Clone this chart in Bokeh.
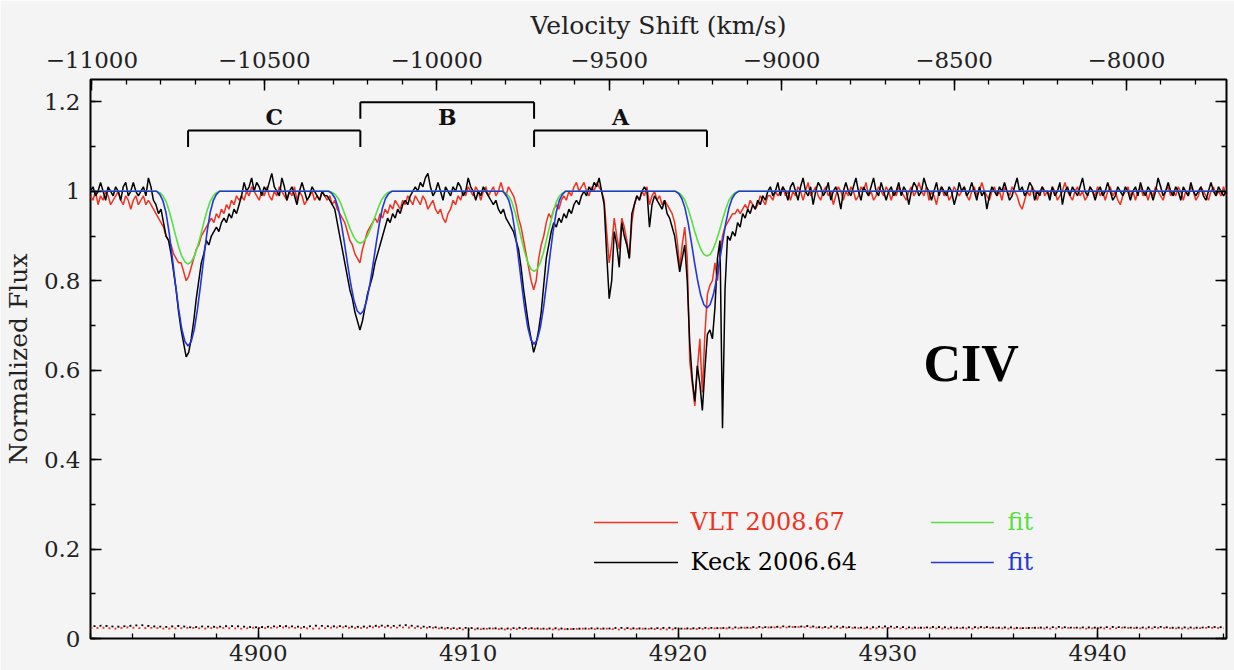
import numpy as np
from bokeh.plotting import figure
from bokeh.models import (Range1d, LinearAxis, CustomJSTickFormatter,
                          SingleIntervalTicker, Label)
from bokeh.embed import file_html
from bokeh.resources import INLINE

# ---------------------------------------------------------------- data
# Spectra sampled on a uniform wavelength grid (Angstrom), flux in percent
WAVE_START = 4892.0
WAVE_STEP = 0.12

keck_pct = [
    100, 101, 99, 100, 102, 100, 98, 101, 100, 99,
    101, 100, 98, 101, 102, 99, 100, 102, 100, 99,
    100, 101, 99, 103, 101, 98, 97, 95, 96, 93,
    90, 89, 86, 82, 78, 73, 69, 66, 63, 64,
    67, 71, 76, 80, 84, 86, 89, 88, 90, 91,
    92, 91, 93, 94, 93, 95, 94, 96, 95, 97,
    99, 102, 100, 101, 103, 100, 102, 101, 99, 101,
    100, 102, 104, 101, 100, 99, 103, 101, 98, 100,
    101, 99, 97, 100, 102, 100, 98, 99, 101, 100,
    99, 98, 100, 99, 99, 98, 97, 96, 93, 90,
    87, 84, 81, 78, 76, 73, 71, 69, 71, 74,
    77, 79, 81, 84, 86, 88, 90, 92, 94, 93,
    95, 94, 96, 95, 97, 98, 97, 99, 100, 101,
    100, 102, 101, 103, 104, 101, 99, 100, 102, 100,
    98, 101, 100, 99, 101, 100, 102, 101, 99, 100,
    103, 101, 100, 98, 100, 99, 101, 100, 99, 98,
    97, 98, 96, 95, 96, 94, 93, 92, 91, 89,
    87, 83, 78, 74, 70, 67, 64, 66, 69, 73,
    79, 85, 88, 91, 93, 92, 94, 93, 95, 94,
    96, 95, 97, 98, 97, 99, 100, 99, 101, 100,
    102, 101, 103, 100, 97, 86, 76, 80, 91, 88,
    83, 93, 90, 88, 85, 95, 97, 99, 98, 100,
    101, 100, 92, 97, 99, 98, 97, 96, 98, 95,
    94, 92, 90, 86, 82, 85, 88, 80, 66, 58,
    53, 61, 57, 51, 60, 68, 69, 67, 74, 85,
    89, 47, 78, 90, 89, 91, 90, 93, 92, 95,
    94, 96, 95, 97, 96, 98, 97, 99, 98, 100,
    101, 99, 100, 102, 99, 101, 100, 98, 101, 102,
    100, 98, 101, 103, 100, 99, 101, 97, 100, 102,
    101, 99, 100, 102, 98, 100, 101, 99, 96, 100,
    102, 100, 99, 101, 103, 100, 98, 101, 100, 99,
    101, 103, 100, 99, 102, 100, 98, 100, 101, 99,
    100, 102, 99, 101, 100, 97, 100, 102, 101, 99,
    100, 103, 101, 100, 98, 100, 102, 99, 101, 100,
    99, 101, 100, 97, 99, 102, 100, 101, 99, 100,
    102, 100, 98, 101, 99, 100, 96, 99, 101, 100,
    99, 101, 100, 102, 100, 98, 99, 101, 103, 100,
    101, 99, 100, 102, 101, 98, 100, 99, 101, 100,
    100, 98, 101, 99, 100, 102, 97, 100, 101, 99,
    101, 100, 99, 101, 103, 100, 99, 101, 100, 98,
    100, 101, 99, 100, 102, 100, 98, 99, 101, 100,
    99, 101, 100, 98, 100, 101, 99, 102, 100, 99,
    101, 100, 98, 100, 103, 101, 99, 100, 102, 100,
    99, 101, 100, 98, 101, 100, 99, 102, 100, 99,
    100, 101, 99, 98, 100, 102, 100, 99, 101, 100,
    99, 100,
]

vlt_pct = [
    99, 98, 100, 97, 99, 98, 100, 99, 97, 98,
    99, 100, 98, 97, 99, 98, 96, 98, 99, 97,
    98, 99, 97, 98, 97, 96, 95, 94, 93, 92,
    90, 89, 88, 86, 85, 84, 84, 82, 80, 81,
    83, 85, 87, 88, 90, 91, 92, 93, 94, 93,
    95, 94, 96, 95, 97, 96, 98, 97, 99, 98,
    99, 98, 100, 99, 101, 100, 99, 98, 100, 99,
    101, 99, 98, 100, 99, 101, 100, 99, 98, 100,
    99, 101, 98, 100, 99, 97, 98, 99, 100, 98,
    99, 98, 100, 99, 98, 99, 97, 98, 96, 95,
    94, 93, 91, 89, 88, 86, 85, 84, 87, 89,
    91, 92, 93, 94, 93, 95, 94, 96, 95, 97,
    96, 98, 97, 96, 98, 97, 99, 98, 97, 99,
    98, 97, 99, 98, 96, 97, 98, 96, 95, 96,
    94, 93, 95, 96, 98, 97, 99, 98, 100, 99,
    101, 100, 99, 101, 100, 98, 100, 101, 99, 100,
    101, 99, 100, 102, 100, 99, 101, 100, 99, 97,
    94, 92, 89, 86, 83, 80, 78, 80, 85, 88,
    90, 93, 95, 94, 96, 97, 96, 98, 99, 98,
    100, 99, 101, 102, 100, 101, 102, 100, 99, 101,
    100, 102, 101, 100, 98, 91, 84, 88, 94, 90,
    87, 94, 92, 89, 85, 93, 97, 99, 98, 100,
    99, 101, 97, 99, 100, 98, 99, 97, 98, 97,
    96, 95, 93, 89, 83, 88, 92, 85, 62, 57,
    52, 60, 67, 55, 68, 77, 79, 80, 84, 80,
    86, 90, 92, 93, 94, 95, 95, 96, 95, 96,
    97, 96, 98, 97, 96, 97, 99, 98, 97, 99,
    99, 98, 100, 99, 100, 101, 99, 100, 98, 100,
    99, 101, 100, 98, 100, 102, 99, 100, 101, 99,
    98, 100, 101, 99, 100, 97, 99, 101, 100, 98,
    100, 99, 101, 100, 98, 99, 101, 100, 102, 99,
    100, 98, 99, 101, 100, 99, 101, 100, 98, 100,
    99, 101, 100, 99, 98, 100, 101, 99, 100, 102,
    100, 99, 101, 98, 100, 99, 97, 100, 101, 99,
    100, 98, 99, 101, 100, 99, 100, 101, 99, 98,
    100, 101, 99, 100, 102, 100, 99, 98, 100, 101,
    99, 100, 98, 101, 100, 99, 101, 100, 99, 97,
    96, 98, 100, 99, 101, 100, 98, 100, 101, 99,
    100, 99, 101, 100, 98, 99, 100, 102, 100, 99,
    98, 100, 101, 99, 100, 98, 99, 101, 100, 99,
    101, 99, 100, 98, 100, 101, 99, 100, 98, 97,
    99, 100, 101, 99, 100, 98, 100, 101, 99, 100,
    98, 100, 99, 101, 100, 99, 98, 100, 101, 99,
    100, 99, 101, 100, 98, 100, 99, 101, 100, 98,
    99, 101, 100, 99, 98, 100, 101, 99, 100, 99,
    101, 99,
]

# Error spectra on a coarser grid (flux units x 1000)
ERR_START = 4892.0
ERR_STEP = 0.6
keck_err_milli = [
    27, 29, 26, 28, 30, 27, 26, 28, 25, 27,
    26, 28, 27, 25, 26, 28, 27, 26, 29, 27,
    28, 26, 27, 29, 28, 30, 27, 26, 24, 23,
    24, 22, 23, 22, 24, 23, 22, 23, 21, 22,
    23, 22, 24, 23, 22, 23, 24, 22, 23, 24,
    23, 25, 24, 26, 25, 27, 26, 28, 25, 27,
    26, 24, 25, 27, 26, 25, 24, 26, 25, 24,
    25, 26, 24, 25, 23, 24, 25, 26, 24, 25,
    24, 26, 25, 24, 25, 26, 24, 25, 24, 26,
    25,
]
vlt_err_milli = [
    23, 24, 22, 25, 23, 24, 22, 23, 24, 22,
    24, 23, 22, 24, 23, 25, 24, 23, 22, 24,
    25, 23, 24, 26, 24, 25, 23, 24, 22, 21,
    20, 21, 22, 20, 21, 22, 21, 20, 21, 22,
    21, 22, 20, 21, 22, 21, 20, 22, 21, 22,
    23, 22, 24, 23, 25, 24, 26, 25, 24, 23,
    24, 23, 22, 24, 23, 22, 24, 23, 22, 23,
    22, 24, 23, 22, 23, 24, 22, 23, 24, 22,
    23, 22, 24, 23, 22, 24, 23, 22, 23, 24,
    23,
]

# Absorption components (observed wavelength of each trough) and fits
COMPONENT_CENTERS = [4896.65, 4904.86, 4913.14, 4921.38]
PROFILE_OFFSETS = [-1.5, -1.35, -1.2, -1.05, -0.9, -0.75, -0.6, -0.45, -0.3, -0.15,
                   0.0, 0.15, 0.3, 0.45, 0.6, 0.75, 0.9, 1.05, 1.2, 1.35, 1.5]
fit_blue = [
    [1.000, 0.993, 0.979, 0.952, 0.907, 0.851, 0.792, 0.737, 0.692, 0.664, 0.654,
     0.664, 0.692, 0.737, 0.792, 0.851, 0.907, 0.952, 0.979, 0.993, 1.000],
    [1.000, 0.995, 0.984, 0.962, 0.926, 0.882, 0.835, 0.791, 0.755, 0.733, 0.725,
     0.733, 0.755, 0.791, 0.835, 0.882, 0.926, 0.962, 0.984, 0.995, 1.000],
    [1.000, 0.993, 0.979, 0.952, 0.908, 0.853, 0.795, 0.740, 0.696, 0.668, 0.658,
     0.668, 0.696, 0.740, 0.795, 0.853, 0.908, 0.952, 0.979, 0.993, 1.000],
    [1.000, 0.995, 0.984, 0.963, 0.930, 0.888, 0.843, 0.802, 0.768, 0.747, 0.739,
     0.747, 0.768, 0.802, 0.843, 0.888, 0.930, 0.963, 0.984, 0.995, 1.000],
]
fit_green = [
    [1.000, 0.997, 0.990, 0.977, 0.956, 0.930, 0.902, 0.876, 0.855, 0.842, 0.837,
     0.842, 0.855, 0.876, 0.902, 0.930, 0.956, 0.977, 0.990, 0.997, 1.000],
    [1.000, 0.998, 0.993, 0.984, 0.969, 0.950, 0.930, 0.912, 0.897, 0.887, 0.884,
     0.887, 0.897, 0.912, 0.930, 0.950, 0.969, 0.984, 0.993, 0.998, 1.000],
    [1.000, 0.996, 0.989, 0.975, 0.952, 0.923, 0.893, 0.864, 0.841, 0.826, 0.821,
     0.826, 0.841, 0.864, 0.893, 0.923, 0.952, 0.975, 0.989, 0.996, 1.000],
    [1.000, 0.997, 0.991, 0.980, 0.961, 0.938, 0.913, 0.890, 0.871, 0.859, 0.855,
     0.859, 0.871, 0.890, 0.913, 0.938, 0.961, 0.980, 0.991, 0.997, 1.000],
]

# Doublet brackets joining neighbouring components
BRACKET_LABELS = ["C", "B", "A"]
BRACKET_LEVELS = [1.136, 1.199, 1.136]
BRACKET_DROP = 0.037
BRACKET_TEXT_Y = 1.166

X_RANGE = (4892.0, 4946.14)
Y_RANGE = (0.0, 1.25)
VEL_RANGE = (-11004, -7710)

RED = "#ee3322"
BLACK = "#000000"
GREEN = "#55e040"
BLUE = "#2436d8"
BG = "#f4f4f4"
FONT = "DejaVu Serif"

# ---------------------------------------------------------------- arrays
keck_wave = WAVE_START + WAVE_STEP * np.arange(len(keck_pct))
vlt_wave = WAVE_START + WAVE_STEP * np.arange(len(vlt_pct))
keck_flux = np.array(keck_pct) / 100.0
vlt_flux = np.array(vlt_pct) / 100.0
keck_err_wave = ERR_START + ERR_STEP * np.arange(len(keck_err_milli))
vlt_err_wave = ERR_START + ERR_STEP * np.arange(len(vlt_err_milli))


def fit_curve(profiles):
    xs, ys = [X_RANGE[0]], [1.0]
    for c, prof in zip(COMPONENT_CENTERS, profiles):
        xs.extend(c + np.array(PROFILE_OFFSETS))
        ys.extend(prof)
    xs.append(X_RANGE[1])
    ys.append(1.0)
    return xs, ys


green_x, green_y = fit_curve(fit_green)
blue_x, blue_y = fit_curve(fit_blue)

# ---------------------------------------------------------------- figure
p = figure(width=1234, height=670, output_backend="svg", toolbar_location=None,
           x_range=Range1d(*X_RANGE), y_range=Range1d(*Y_RANGE),
           min_border_left=89, min_border_right=8, min_border_top=79,
           min_border_bottom=32)
p.background_fill_color = BG
p.border_fill_color = BG
p.outline_line_color = "black"
p.outline_line_width = 2
p.grid.visible = False
p.extra_x_ranges = {"vel": Range1d(*VEL_RANGE)}

# error spectra
p.line(vlt_err_wave, np.array(vlt_err_milli) / 1000.0, color=RED,
       line_width=1.8, line_dash="2 4")
p.line(keck_err_wave, np.array(keck_err_milli) / 1000.0, color=BLACK,
       line_width=1.8, line_dash="2 4", line_dash_offset=3)

# spectra and fits
p.line(vlt_wave, vlt_flux, color=RED, line_width=1.5)
p.line(keck_wave, keck_flux, color=BLACK, line_width=1.5)
p.line(green_x, green_y, color=GREEN, line_width=1.6)
p.line(blue_x, blue_y, color=BLUE, line_width=1.6)

# brackets
left_c = COMPONENT_CENTERS[:-1]
right_c = COMPONENT_CENTERS[1:]
lv = np.array(BRACKET_LEVELS)
p.segment(x0=left_c, x1=right_c, y0=lv, y1=lv, color="black", line_width=2)
p.segment(x0=left_c, x1=left_c, y0=lv, y1=lv - BRACKET_DROP, color="black", line_width=2)
p.segment(x0=right_c, x1=right_c, y0=lv, y1=lv - BRACKET_DROP, color="black", line_width=2)
for a, b, name in zip(left_c, right_c, BRACKET_LABELS):
    p.add_layout(Label(x=(a + b) / 2, y=BRACKET_TEXT_Y, text=name,
                       text_font=FONT, text_font_style="bold",
                       text_font_size="22px", text_align="center",
                       text_baseline="middle", text_color="#111111"))

# legend
LEG_ROWS_Y = [0.2595, 0.170]
LEG_LEFT = [4916.0, 4920.0, 4920.6]
LEG_RIGHT = [4932.05, 4935.05, 4935.7]
legend_left = [("VLT 2008.67", RED), ("Keck 2006.64", BLACK)]
legend_right = [("fit", GREEN), ("fit", BLUE)]
for y, (txt, col) in zip(LEG_ROWS_Y, legend_left):
    p.segment(x0=[LEG_LEFT[0]], x1=[LEG_LEFT[1]], y0=[y], y1=[y], color=col, line_width=1.5)
    p.add_layout(Label(x=LEG_LEFT[2], y=y, text=txt, text_font=FONT,
                       text_font_size="24px", text_color=col,
                       text_baseline="middle"))
for y, (txt, col) in zip(LEG_ROWS_Y, legend_right):
    p.segment(x0=[LEG_RIGHT[0]], x1=[LEG_RIGHT[1]], y0=[y], y1=[y], color=col, line_width=1.5)
    p.add_layout(Label(x=LEG_RIGHT[2], y=y, text=txt, text_font=FONT,
                       text_font_size="24px", text_color=col,
                       text_baseline="middle"))

# ion label
p.add_layout(Label(x=4931.7, y=0.615, text="CIV", text_font="Liberation Serif",
                   text_font_style="bold", text_font_size="52px",
                   text_color="black", text_baseline="alphabetic"))

# ---------------------------------------------------------------- axes


def style_axis(ax):
    ax.axis_line_color = None
    ax.major_tick_in = 11
    ax.major_tick_out = 0
    ax.minor_tick_in = 5
    ax.minor_tick_out = 0
    ax.major_tick_line_color = "black"
    ax.minor_tick_line_color = "black"
    ax.major_tick_line_width = 1.5
    ax.minor_tick_line_width = 1.3
    ax.major_label_text_font = FONT
    ax.major_label_text_font_size = "23px"
    ax.major_label_text_color = "#222222"
    ax.axis_label_text_font = FONT
    ax.axis_label_text_font_size = "25px"
    ax.axis_label_text_font_style = "normal"
    ax.axis_label_text_color = "#222222"


xb = p.xaxis[0]
xb.ticker = SingleIntervalTicker(interval=10, num_minor_ticks=5)
style_axis(xb)
xb.major_label_standoff = 6

yl = p.yaxis[0]
yl.ticker = SingleIntervalTicker(interval=0.2, num_minor_ticks=2)
yl.formatter = CustomJSTickFormatter(code="""
    if (Math.abs(tick) < 1e-9) { return '0'; }
    if (Math.abs(tick - Math.round(tick)) < 1e-9) { return tick.toFixed(0); }
    return tick.toFixed(1);
""")
style_axis(yl)
yl.axis_label = "Normalized Flux"
yl.major_label_standoff = 10
yl.axis_label_standoff = 8

top = LinearAxis(x_range_name="vel", axis_label="Velocity Shift (km/s)",
                 ticker=SingleIntervalTicker(interval=500, num_minor_ticks=5))
top.formatter = CustomJSTickFormatter(code="""
    return (tick < 0 ? '\u2212' : '') + Math.abs(tick).toFixed(0);
""")
style_axis(top)
top.major_label_standoff = 12
top.axis_label_standoff = 9
p.add_layout(top, "above")

right = LinearAxis(ticker=SingleIntervalTicker(interval=0.2, num_minor_ticks=2))
style_axis(right)
right.major_label_text_font_size = "0px"
right.major_label_standoff = 0
right.formatter = CustomJSTickFormatter(code="return '';")
p.add_layout(right, "right")

with open("out.html", "w") as f:
    f.write(file_html(p, INLINE, "CIV"))
